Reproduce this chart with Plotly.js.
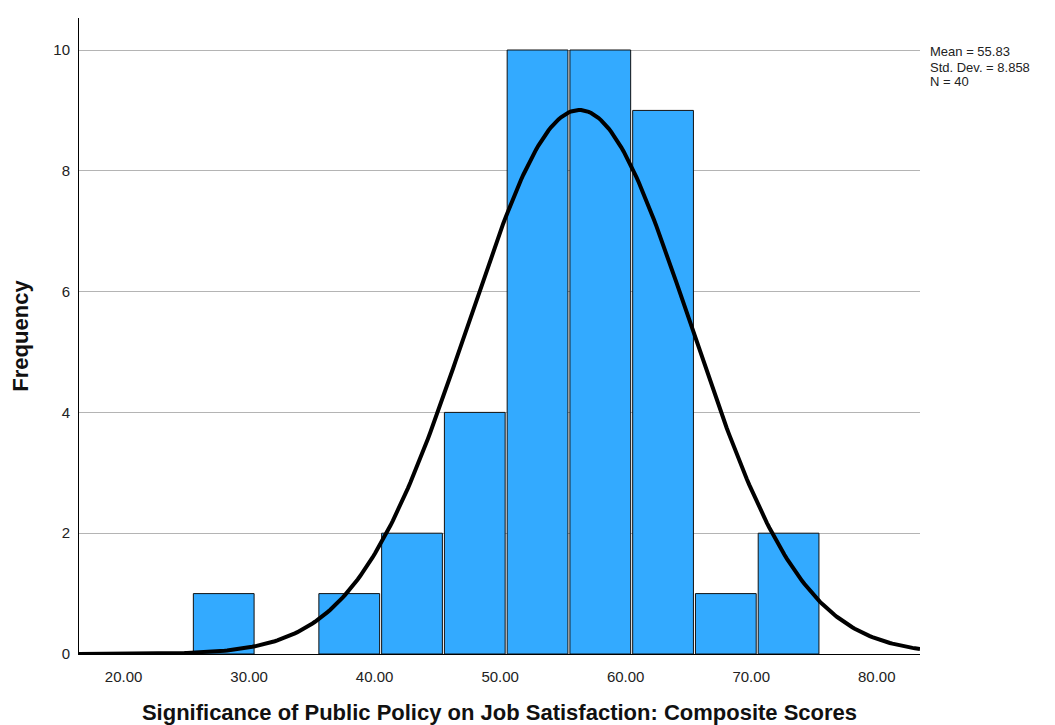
<!DOCTYPE html>
<html>
<head>
<meta charset="utf-8">
<script src="https://cdn.plot.ly/plotly-3.0.1.min.js"></script>
<style>html,body{margin:0;padding:0;background:#fff;}#chart{width:1055px;height:725px;}</style>
</head>
<body>
<div id="chart"></div>
<script>
// Histogram bins (lower edge) and frequencies
var binStarts = [25, 30, 35, 40, 45, 50, 55, 60, 65, 70];
var counts    = [1, 0, 1, 2, 4, 10, 10, 9, 1, 2];
var binWidth = 5;
// Summary statistics shown on the chart
var statMean = 55.83;
var statSD = 8.858;
var statN = 40;
var statLines = ["Mean = 55.83", "Std. Dev. = 8.858", "N = 40"];
var xTickVals = [20, 30, 40, 50, 60, 70, 80];
var xTickText = ["20.00", "30.00", "40.00", "50.00", "60.00", "70.00", "80.00"];
var yTickVals = [0, 2, 4, 6, 8, 10];

var barX = [], barY = [];
for (var i = 0; i < binStarts.length; i++) {
  if (counts[i] > 0) { barX.push(binStarts[i] + binWidth / 2); barY.push(counts[i]); }
}

// Fitted normal curve from the stated mean / SD / N
var xMin = 15.97, xMax = 82.97;
var curveX = [], curveY = [];
for (var x = xMin; x <= xMax + 1e-9; x += 0.2) {
  var z = (x - statMean) / statSD;
  curveX.push(x);
  curveY.push(statN * binWidth * Math.exp(-0.5 * z * z) / (statSD * Math.sqrt(2 * Math.PI)));
}

var font = "Liberation Sans, Arial, sans-serif";

var traces = [
  {
    type: "bar", x: barX, y: barY, width: binWidth * 0.968,
    marker: {color: "#33aaff", line: {color: "#111111", width: 1}},
    hoverinfo: "x+y", showlegend: false
  },
  {
    type: "scatter", mode: "lines", x: curveX, y: curveY,
    line: {color: "#000000", width: 4}, hoverinfo: "skip", showlegend: false
  }
];

var L = 79, R = 135, T = 18, B = 71;
var plotH = 725 - T - B, plotW = 1055 - L - R;
function py(p) { return (725 - B - p) / plotH; }
function px(p) { return (p - L) / plotW; }

var annotations = [];
var statY = [52, 67, 82];
for (var k = 0; k < statLines.length; k++) {
  annotations.push({
    xref: "paper", yref: "paper", x: px(929), y: py(statY[k]),
    xanchor: "left", yanchor: "middle", showarrow: false,
    text: statLines[k], align: "left", borderpad: 0,
    font: {family: font, size: 13, color: "#222222"}
  });
}

var layout = {
  width: 1055, height: 725,
  margin: {l: L, r: R, t: T, b: B},
  paper_bgcolor: "#ffffff", plot_bgcolor: "#ffffff",
  bargap: 0,
  xaxis: {
    range: [xMin, xMax], tickvals: xTickVals, ticktext: xTickText,
    ticks: "outside", ticklen: 9, tickcolor: "rgba(0,0,0,0)",
    ticklabelshift: -6,
    showline: true, linecolor: "#000000", linewidth: 1,
    showgrid: false, zeroline: false,
    tickfont: {family: font, size: 15, color: "#222222"},
    title: {text: "Significance of Public Policy on Job Satisfaction: Composite Scores",
            font: {family: font, size: 22, color: "#111111", weight: "bold"}, standoff: 26}
  },
  yaxis: {
    range: [0, 10.53], tickvals: yTickVals,
    ticks: "outside", ticklen: 5, tickcolor: "rgba(0,0,0,0)",
    showline: true, linecolor: "#000000", linewidth: 1,
    showgrid: true, gridcolor: "#b4b4b4", gridwidth: 1, zeroline: false,
    tickfont: {family: font, size: 15, color: "#222222"},
    title: {text: "Frequency", font: {family: font, size: 22, color: "#111111", weight: "bold"}, standoff: 18}
  },
  annotations: annotations
};

Plotly.newPlot("chart", traces, layout, {displayModeBar: false, staticPlot: true});
</script>
</body>
</html>
